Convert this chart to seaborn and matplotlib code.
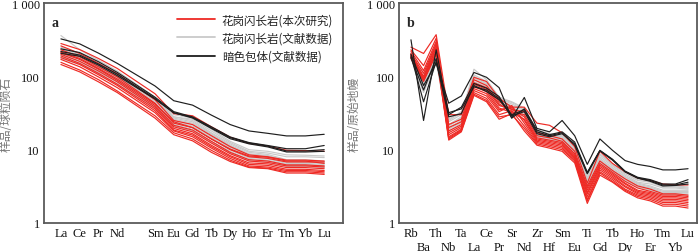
import numpy as np
import pandas as pd
import matplotlib
matplotlib.use("Agg")
import matplotlib.pyplot as plt
from matplotlib.lines import Line2D
import seaborn as sns

sns.set_theme(style="white")
plt.rcParams['font.family'] = ['Liberation Serif', 'DejaVu Serif']

# ---------------- data ----------------
ree_labels = ["La", "Ce", "Pr", "Nd", "", "Sm", "Eu", "Gd", "Tb", "Dy", "Ho", "Er", "Tm", "Yb", "Lu"]
ree_pos = [0, 1, 2, 3, 5, 6, 7, 8, 9, 10, 11, 12, 13, 14]  # Pm gap at 4

ree_red = [
    [280, 232, 175, 128, 58, 31, 29, 20.5, 14.8, 12.2, 11.2, 9.8, 9.7, 9.5],
    [260, 205, 150, 108, 48, 25, 22, 15.5, 11, 8.5, 8.0, 7.2, 7.2, 7.0],
    [230, 185, 135, 98, 43, 23, 20, 14, 10, 8.0, 7.6, 6.8, 6.8, 6.8],
    [215, 175, 128, 92, 42, 24, 20, 14, 10.2, 8.2, 7.9, 7.0, 7.0, 6.5],
    [210, 170, 125, 88, 40, 21.5, 18.5, 13, 9.2, 7.3, 7.0, 6.2, 6.2, 6.0],
    [200, 160, 118, 84, 38, 20.5, 17.5, 12.3, 8.8, 7.0, 6.7, 6.0, 6.0, 5.8],
    [190, 150, 110, 78, 36, 19.5, 16.5, 11.5, 8.3, 6.6, 6.4, 5.7, 5.7, 5.5],
    [180, 145, 105, 75, 34, 18.5, 15.8, 11, 8.0, 6.3, 6.1, 5.4, 5.4, 5.2],
    [170, 135, 98, 70, 32, 18, 15, 10.5, 7.6, 6.0, 5.8, 5.2, 5.2, 5.0],
    [155, 122, 90, 63, 29, 17, 14, 9.8, 7.2, 5.8, 5.6, 5.0, 5.0, 4.8],
    [145, 115, 84, 60, 27, 16, 13.2, 9.2, 6.9, 5.7, 5.5, 4.8, 4.8, 4.6],
]
ree_gray = [
    [360, 230, 165, 118, 52, 28, 26, 18, 12.5, 9.5, 9, 8, 8, 7.8],
    [250, 200, 150, 108, 50, 28, 25, 17, 12, 9.2, 8.6, 7.3, 7.3, 7.0],
    [240, 195, 145, 104, 48, 27, 24, 16.5, 11.5, 8.8, 8.3, 7.1, 7.0, 6.8],
    [225, 185, 138, 100, 46, 26, 23, 16, 11.2, 8.5, 8.1, 6.9, 6.9, 6.7],
    [215, 178, 132, 96, 44, 25, 22, 15, 10.8, 8.2, 7.8, 6.7, 6.7, 6.5],
    [205, 170, 125, 92, 42, 24, 21, 14.5, 10.4, 7.9, 7.5, 6.5, 6.5, 6.3],
    [195, 160, 120, 88, 40, 23, 20, 14, 10, 7.6, 7.2, 6.3, 6.3, 6.1],
    [185, 152, 114, 83, 38, 22, 19, 13, 9.5, 7.3, 7.0, 6.1, 6.1, 5.9],
    [175, 145, 108, 79, 37, 21, 18, 12.5, 9.0, 7.0, 6.7, 5.9, 5.9, 5.7],
    [230, 190, 142, 103, 50, 30, 27, 19, 13, 10, 9.5, 8.5, 8.4, 8.2],
]
ree_black = [
    [324, 277, 207, 150, 74, 46.5, 40.5, 29.6, 22, 18, 16.7, 15.4, 15.4, 16.2],
    [237, 211, 158, 113, 52, 33, 28, 20.5, 14.9, 12.5, 11.4, 10.3, 10.3, 11.4],
    [218, 195, 147, 107, 50, 31.7, 27.6, 19.8, 14.6, 12.3, 11.2, 9.6, 9.6, 10],
    [206, 188, 142, 102, 49, 32, 27, 19.5, 14.1, 12, 10.9, 9.3, 9.3, 9.5],
]

spider_labels = ["Rb", "Ba", "Th", "Nb", "Ta", "La", "Ce", "Pr", "Sr", "Nd", "Zr", "Hf",
                 "Sm", "Eu", "Ti", "Gd", "Tb", "Dy", "Ho", "Er", "Tm", "Yb", "Lu"]

spider_red = [
    [250, 205, 370, 30, 30, 97, 85, 50, 38, 38, 23, 21.5, 17, 11, 3.5, 9.5, 6.5, 5.0, 4.1, 3.8, 3.4, 3.3, 3.3],
    [230, 140, 330, 22, 26, 90, 75, 45, 35, 33, 17, 15.5, 14, 9.5, 3.2, 7.0, 5.2, 4.0, 3.2, 2.9, 2.5, 2.5, 2.4],
    [220, 120, 300, 20, 24, 82, 70, 42, 33, 30, 15.5, 14.5, 13, 8.8, 3.0, 6.5, 4.9, 3.7, 3.0, 2.7, 2.4, 2.4, 2.3],
    [205, 110, 280, 18, 22, 78, 66, 40, 36, 28, 14.5, 13.5, 12.5, 8.4, 2.8, 6.2, 4.7, 3.5, 2.8, 2.6, 2.3, 2.3, 2.2],
    [200, 100, 270, 17, 21, 72, 62, 37, 32, 26, 14, 13, 12, 8.1, 2.6, 5.9, 4.5, 3.4, 2.7, 2.5, 2.2, 2.2, 2.1],
    [195, 95, 250, 16, 20, 68, 58, 35, 38, 25, 13.5, 12.5, 11.5, 7.8, 2.5, 5.6, 4.3, 3.2, 2.6, 2.4, 2.1, 2.1, 2.0],
    [190, 92, 240, 15, 19, 64, 54, 33, 40, 23, 13, 12, 11, 7.5, 2.3, 5.3, 4.1, 3.1, 2.5, 2.3, 2.0, 2.0, 1.9],
    [185, 90, 220, 14.5, 18.5, 60, 50, 30, 34, 21, 12.5, 11.5, 10.5, 7.2, 2.1, 5.0, 3.9, 2.9, 2.4, 2.2, 1.9, 1.9, 1.8],
    [180, 88, 210, 14, 18, 57, 47, 28, 30, 19.5, 12, 11, 10, 7.0, 2.0, 4.8, 3.7, 2.8, 2.3, 2.1, 1.8, 1.8, 1.7],
    [175, 85, 200, 13.5, 17.5, 55, 45, 26, 31, 18, 11.5, 10.5, 9.5, 6.6, 1.85, 4.5, 3.6, 2.7, 2.2, 2.0, 1.7, 1.7, 1.6],
]
spider_gray = [
    [210, 90, 230, 22, 28, 125, 90, 52, 45, 37, 18, 16, 16, 11, 4.2, 8.5, 6.2, 4.7, 3.8, 3.6, 3.1, 3.1, 3.0],
    [200, 80, 220, 24, 30, 100, 80, 50, 42, 35, 17.5, 15.5, 15, 10.5, 4.0, 8.0, 6.0, 4.5, 3.6, 3.4, 3.0, 3.0, 2.9],
    [195, 75, 200, 25, 32, 90, 75, 47, 40, 34, 17, 15, 14.5, 10, 3.8, 7.6, 5.7, 4.3, 3.5, 3.2, 2.8, 2.8, 2.8],
    [190, 70, 190, 20, 25, 85, 72, 45, 38, 32, 16.5, 14.5, 14, 9.8, 3.6, 7.3, 5.5, 4.2, 3.4, 3.1, 2.7, 2.7, 2.7],
    [185, 100, 250, 21, 27, 95, 78, 48, 36, 33, 16, 14.5, 13.5, 9.5, 3.5, 7.0, 5.3, 4.0, 3.3, 3.0, 2.6, 2.6, 2.6],
    [180, 65, 170, 19, 24, 80, 68, 42, 37, 30, 15.5, 14, 13, 9.2, 3.3, 6.8, 5.1, 3.9, 3.2, 2.9, 2.5, 2.5, 2.5],
    [200, 110, 260, 26, 33, 105, 85, 50, 44, 36, 18.5, 16.5, 15.5, 10.8, 4.5, 8.8, 6.4, 4.9, 3.9, 3.7, 3.2, 3.2, 3.1],
    [175, 60, 160, 18, 23, 75, 64, 40, 35, 29, 15, 13.5, 12.5, 9.0, 3.1, 6.5, 5.0, 3.8, 3.1, 2.8, 2.45, 2.45, 2.4],
]
spider_black = [
    [200, 75, 150, 43, 54, 113, 97, 70, 27, 51.5, 19.5, 17.5, 25, 15.5, 6.3, 14, 9.8, 7.1, 6.3, 5.9, 5.3, 5.3, 5.5],
    [315, 25, 230, 30, 38, 80, 69, 53, 27, 36, 18.5, 16, 17.5, 12.7, 4.9, 9.8, 7.4, 5.1, 4.2, 3.9, 3.4, 3.4, 3.9],
    [190, 45, 160, 28, 31, 75, 62, 48, 30, 35, 17.5, 15.5, 17, 11.5, 4.7, 9.6, 7.3, 5.0, 4.1, 3.8, 3.3, 3.3, 3.6],
    [180, 65, 175, 32, 36, 72, 65, 50, 29, 33, 16.5, 15, 16.5, 12, 4.8, 9.7, 7.2, 5.0, 4.1, 3.7, 3.2, 3.25, 3.4],
]

group_names = ["花岗闪长岩(本次研究)", "花岗闪长岩(文献数据)", "暗色包体(文献数据)"]
colors = {group_names[0]: "#ee2a24", group_names[1]: "#c9c9c9", group_names[2]: "#1e1e1e"}


def to_long(sets, xs):
    rows = []
    for gname, series in sets:
        for i, s in enumerate(series):
            for x, v in zip(xs, s):
                rows.append({"group": gname, "sample": f"{gname}_{i}", "x": x, "y": v})
    return pd.DataFrame(rows)


df_a = to_long([(group_names[1], ree_gray), (group_names[0], ree_red), (group_names[2], ree_black)], ree_pos)
df_b = to_long([(group_names[1], spider_gray), (group_names[0], spider_red), (group_names[2], spider_black)],
               list(range(len(spider_labels))))

fig = plt.figure(figsize=(7.0, 2.53), dpi=100)
W, H = 700, 253
ax_a = fig.add_axes([44 / W, 1 - 224 / H, 299 / W, 220 / H])
ax_b = fig.add_axes([399 / W, 1 - 224 / H, 298 / W, 220 / H])

spine_col = "#5a5a5a"
for ax, df in [(ax_a, df_a), (ax_b, df_b)]:
    for g in [group_names[1], group_names[0], group_names[2]]:
        sub = df[df.group == g]
        sns.lineplot(data=sub, x="x", y="y", units="sample", estimator=None,
                     color=colors[g], lw=0.85, ax=ax, legend=False, sort=False)
    ax.set_yscale("log")
    ax.set_ylim(1, 1000)
    ax.set_yticks([1, 10, 100, 1000])
    ax.set_yticklabels(["1", "10", "100", "1 000"])
    ax.yaxis.set_minor_locator(matplotlib.ticker.NullLocator())
    ax.set_xlabel("")
    for sp in ax.spines.values():
        sp.set_color(spine_col)
        sp.set_linewidth(1.3)
    ax.tick_params(axis="both", which="both", direction="in", length=3.5, width=0.9, color=spine_col,
                   labelsize=9, labelcolor="#111111", pad=3)

ax_a.set_xlim(-0.9, 15.0)
ax_a.set_xticks(range(15))
ax_a.set_xticklabels(ree_labels)

ax_b.set_xlim(-0.95, 22.71)
even = list(range(0, len(spider_labels), 2))
odd = list(range(1, len(spider_labels), 2))
ax_b.set_xticks(even)
ax_b.set_xticklabels([spider_labels[i] for i in even])
ax_b.set_xticks(odd, minor=True)
ax_b.set_xticklabels([spider_labels[i] for i in odd], minor=True)
ax_b.tick_params(axis="x", which="minor", pad=12.8)

cjk = ['Noto Sans CJK SC', 'DejaVu Sans']
ax_a.set_ylabel("样品/球粒陨石", family=cjk, color="#777777", fontsize=8.5)
ax_b.set_ylabel("样品/原始地幔", family=cjk, color="#777777", fontsize=8.5)
ax_a.yaxis.set_label_coords(-0.104, 0.5)
ax_b.yaxis.set_label_coords(-0.128, 0.5)

ax_a.text(0.025, 0.94, "a", transform=ax_a.transAxes, fontsize=10, fontweight="bold", va="top")
ax_b.text(0.025, 0.94, "b", transform=ax_b.transAxes, fontsize=10, fontweight="bold", va="top")

handles = [Line2D([], [], color=colors[g], lw=1.3) for g in group_names]
leg = ax_a.legend(handles, group_names, loc="upper right", bbox_to_anchor=(0.99, 0.985), frameon=False,
                  prop={"family": cjk, "size": 8.3}, handlelength=3.3, handletextpad=0.6,
                  labelspacing=0.45, borderaxespad=0.2)
for t in leg.get_texts():
    t.set_color("#222222")

fig.savefig("out.png", dpi=100)
